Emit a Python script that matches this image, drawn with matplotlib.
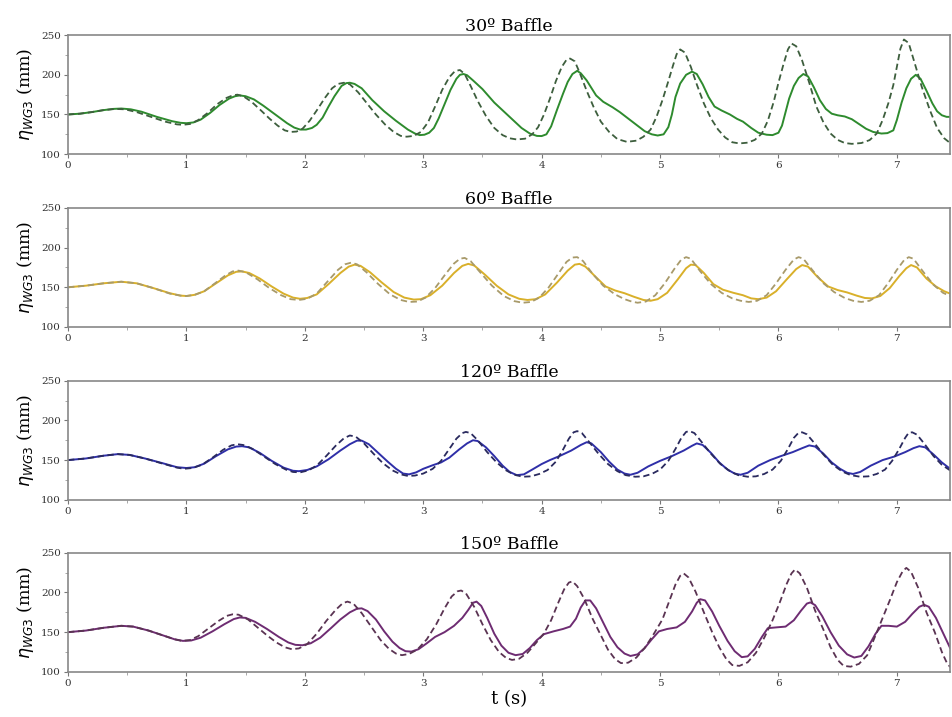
import matplotlib
matplotlib.use("Agg")
import matplotlib.pyplot as plt
from matplotlib.ticker import MultipleLocator

# values (time in s, elevation in mm)

# --- 30º baffle ---
t_s30 = [0, 0.1, 0.2, 0.3, 0.38, 0.45, 0.53, 0.62, 0.75, 0.88, 0.95, 1.0, 1.06, 1.12, 1.2,
         1.28, 1.36, 1.41, 1.45, 1.5, 1.57, 1.65, 1.75, 1.85, 1.91, 1.96, 2.01, 2.06, 2.1,
         2.15, 2.2, 2.25, 2.31, 2.35, 2.38, 2.42, 2.48, 2.57, 2.67, 2.77, 2.87, 2.93, 2.97,
         3.01, 3.05, 3.09, 3.13, 3.18, 3.23, 3.28, 3.31, 3.34, 3.37, 3.42, 3.5, 3.6, 3.73,
         3.83, 3.9, 3.96, 4.0, 4.04, 4.08, 4.13, 4.18, 4.22, 4.26, 4.3, 4.33, 4.38, 4.46,
         4.52, 4.6, 4.66, 4.73, 4.8, 4.87, 4.93, 4.98, 5.03, 5.07, 5.1, 5.13, 5.17, 5.22,
         5.27, 5.31, 5.36, 5.41, 5.46, 5.52, 5.59, 5.65, 5.7, 5.77, 5.83, 5.9, 5.95, 6.0,
         6.03, 6.06, 6.09, 6.13, 6.17, 6.21, 6.25, 6.3, 6.35, 6.4, 6.45, 6.5, 6.56, 6.62,
         6.68, 6.74, 6.8, 6.87, 6.92, 6.97, 7.0, 7.04, 7.08, 7.12, 7.16, 7.2, 7.25, 7.3,
         7.34, 7.38, 7.42, 7.45]
y_s30 = [150, 151, 153, 155.5, 157, 157.5, 156.5, 153.5, 147, 141.5, 139.5, 139, 140, 143.5, 152,
         162, 170, 173, 174, 173, 169, 161, 150, 139, 133.5, 131, 131, 133, 137,
         146, 160, 173, 186, 189.5, 190, 188.5, 183, 168, 154, 142, 131, 126, 124,
         124.5, 127, 133, 145, 163, 181, 195, 200, 201, 199.5, 193, 182, 165, 147,
         133, 126, 123, 122.8, 125, 135, 156, 176, 191, 201, 205, 202, 193, 174,
         166, 159, 153, 145, 137, 129, 125, 123.5, 125, 134, 150, 172, 189, 200,
         204, 201, 188, 172, 160, 155, 150, 144.5, 141, 133, 127, 124.5, 124, 127,
         136, 153, 170, 186, 196, 201, 198, 184, 168, 157, 151, 149, 147.5, 144,
         138, 132, 128, 126, 126.5, 130, 143, 165, 183, 195, 200, 195, 180, 164,
         154, 149, 147, 147]
t_d30 = [0, 0.1, 0.2, 0.3, 0.4, 0.48, 0.58, 0.7, 0.82, 0.92, 0.97, 1.03, 1.1, 1.18, 1.26,
         1.34, 1.39, 1.43, 1.48, 1.55, 1.63, 1.7, 1.77, 1.83, 1.88, 1.93, 1.98, 2.04, 2.1,
         2.17, 2.23, 2.28, 2.33, 2.38, 2.45, 2.53, 2.6, 2.68, 2.75, 2.81, 2.86, 2.92, 2.98,
         3.04, 3.1, 3.16, 3.22, 3.27, 3.31, 3.35, 3.4, 3.46, 3.53, 3.6, 3.67, 3.73, 3.79,
         3.86, 3.92, 3.97, 4.02, 4.07, 4.12, 4.17, 4.21, 4.24, 4.28, 4.32, 4.38, 4.44, 4.5,
         4.57, 4.64, 4.72, 4.8, 4.86, 4.92, 4.97, 5.02, 5.07, 5.11, 5.14, 5.17, 5.21, 5.26,
         5.31, 5.37, 5.43, 5.49, 5.55, 5.61, 5.67, 5.74, 5.8, 5.86, 5.91, 5.96, 6.0, 6.04,
         6.08, 6.11, 6.15, 6.2, 6.26, 6.32, 6.38, 6.44, 6.5, 6.56, 6.62, 6.7, 6.77, 6.83,
         6.88, 6.93, 6.97, 7.0, 7.03, 7.06, 7.1, 7.15, 7.21, 7.28, 7.34, 7.4, 7.45]
y_d30 = [150, 151, 153, 155.5, 157, 156.5, 153, 147, 141, 137.5, 137, 138, 143, 152, 163,
         171, 174, 175, 173, 166, 155, 145, 136, 130, 128, 128.5, 132, 142, 155,
         171, 183, 188.5, 190, 188, 178, 163, 150, 137, 128, 123, 122, 123, 128,
         140, 160, 181, 197, 205, 206, 201, 186, 167, 148, 133, 124, 120, 118.5,
         119.5, 125, 134, 150, 170, 192, 210, 219, 220.5, 217, 203, 180, 159, 141,
         128, 119, 115.5, 117, 122, 131, 147, 168, 192, 212, 226, 232, 228, 210,
         188, 164, 145, 131, 121, 115, 113.5, 114.5, 118, 126, 142, 166, 190, 212,
         232, 239.5, 236, 218, 190, 160, 140, 126, 118, 114, 113, 114, 117.7, 126,
         143, 165, 187, 210, 233, 244.5, 240, 215, 185, 155, 133, 120, 114]

# --- 60º baffle ---
t_s60 = [0, 0.15, 0.3, 0.45, 0.58, 0.72, 0.86, 0.95, 1.0, 1.07, 1.15, 1.25, 1.35, 1.42, 1.47,
         1.53, 1.62, 1.72, 1.82, 1.9, 1.96, 2.02, 2.1, 2.2, 2.3, 2.37, 2.42, 2.47, 2.55,
         2.65, 2.75, 2.84, 2.92, 2.98, 3.06, 3.16, 3.26, 3.33, 3.38, 3.43, 3.52, 3.62, 3.72,
         3.81, 3.88, 3.95, 4.03, 4.13, 4.22, 4.28, 4.32, 4.37, 4.45, 4.54, 4.62, 4.7, 4.78,
         4.86, 4.92, 4.98, 5.06, 5.15, 5.22, 5.26, 5.3, 5.37, 5.45, 5.53, 5.62, 5.7, 5.77,
         5.83, 5.9, 5.98, 6.07, 6.15, 6.2, 6.25, 6.33, 6.42, 6.5, 6.58, 6.66, 6.73, 6.79,
         6.86, 6.94, 7.02, 7.08, 7.12, 7.17, 7.25, 7.33, 7.4, 7.45]
y_s60 = [150, 152, 155, 157, 155, 149, 142.5, 139.5, 139, 140.5, 145, 155, 165, 169.5, 170,
         168, 161, 151, 142, 137, 135.5, 136.5, 141, 154, 168, 176, 178.5, 177, 169,
         156, 144, 137, 134.5, 135, 140, 152, 168, 177, 179.5, 177.5, 166, 152, 141,
         135.5, 134, 135, 141, 156, 171, 178.5, 179.5, 176, 164, 151, 146, 142.5, 138,
         134, 133, 135, 143, 160, 174, 178.5, 178, 168, 154, 147, 143, 140, 136,
         135, 137, 145, 160, 173, 178, 176, 163, 151, 146.5, 143.5, 139.5, 136.5, 136,
         139, 149, 164, 174, 178, 175, 161, 151, 145, 142]
t_d60 = [0, 0.15, 0.3, 0.45, 0.58, 0.72, 0.86, 0.95, 1.0, 1.07, 1.15, 1.25, 1.33, 1.39, 1.44,
         1.5, 1.6, 1.7, 1.8, 1.88, 1.95, 2.02, 2.1, 2.19, 2.28, 2.34, 2.39, 2.44, 2.52,
         2.62, 2.72, 2.81, 2.88, 2.95, 3.02, 3.1, 3.19, 3.26, 3.31, 3.35, 3.4, 3.48, 3.58,
         3.68, 3.77, 3.84, 3.91, 3.98, 4.06, 4.14, 4.21, 4.26, 4.3, 4.35, 4.43, 4.52, 4.62,
         4.7, 4.76, 4.81, 4.88, 4.96, 5.04, 5.12, 5.18, 5.22, 5.26, 5.34, 5.43, 5.52, 5.61,
         5.68, 5.75, 5.82, 5.9, 5.98, 6.06, 6.13, 6.17, 6.21, 6.29, 6.38, 6.47, 6.56, 6.63,
         6.7, 6.77, 6.85, 6.93, 7.0, 7.06, 7.1, 7.14, 7.22, 7.31, 7.39, 7.45]
y_d60 = [150, 152, 155, 157, 155, 149, 142, 139.5, 139, 140.5, 145, 156, 165, 170, 171,
         169, 160, 149, 140, 135, 134, 135.5, 142, 157, 172, 179, 181, 179, 169,
         154, 141, 134, 131.5, 132, 137, 149, 167, 180, 186, 187, 183, 169, 152,
         139, 132.5, 130.5, 131.5, 137, 150, 167, 182, 187.5, 188, 183, 167, 152, 141,
         135, 132, 130.5, 132, 140, 155, 173, 185, 188, 186, 170, 154, 143, 136,
         133, 131.5, 133, 140, 155, 172, 185, 188, 186, 171, 155, 144, 136.5, 133,
         131.5, 133, 140, 156, 172, 184, 188, 186, 170, 153, 143, 139]

# --- 120º baffle ---
t_s120 = [0, 0.15, 0.3, 0.42, 0.52, 0.65, 0.8, 0.92, 1.0, 1.07, 1.15, 1.25, 1.35, 1.42, 1.47,
          1.53, 1.62, 1.72, 1.82, 1.9, 1.95, 2.02, 2.1, 2.2, 2.3, 2.38, 2.44, 2.48, 2.54,
          2.62, 2.7, 2.77, 2.83, 2.88, 2.94, 3.0, 3.08, 3.15, 3.22, 3.3, 3.37, 3.42, 3.46,
          3.53, 3.6, 3.67, 3.73, 3.79, 3.85, 3.92, 4.0, 4.07, 4.15, 4.25, 4.33, 4.38, 4.42,
          4.5, 4.57, 4.64, 4.7, 4.75, 4.81, 4.9, 5.0, 5.1, 5.2, 5.27, 5.31, 5.36, 5.43,
          5.5, 5.57, 5.63, 5.68, 5.74, 5.83, 5.93, 6.02, 6.12, 6.2, 6.26, 6.31, 6.38, 6.45,
          6.52, 6.58, 6.63, 6.69, 6.78, 6.88, 6.98, 7.07, 7.14, 7.19, 7.24, 7.31, 7.38, 7.45]
y_s120 = [150, 152, 155.5, 157.5, 156.5, 152, 146, 141, 140, 141, 145.5, 155, 163.5, 167, 167.5,
          166, 159, 149, 140.5, 136.5, 136, 137.5, 142, 151, 162, 170, 174.5, 174.5, 170,
          159, 148, 139, 133, 132, 134.5, 139, 143.5, 147, 153, 163, 171, 175, 174,
          166, 155, 143, 135, 131, 132, 138, 145, 150, 155, 162, 169, 172.5, 171,
          160, 148, 138, 133, 131.5, 134, 142, 149, 155, 162, 168, 171, 169, 159,
          147, 138, 133, 131.5, 134, 143, 150, 155, 160, 165, 168.5, 167, 158, 147,
          139, 134, 132.5, 135, 143, 150, 154.5, 160, 165, 167.5, 166, 157, 147, 139]
t_d120 = [0, 0.15, 0.3, 0.42, 0.52, 0.65, 0.8, 0.92, 0.98, 1.05, 1.13, 1.22, 1.31, 1.38, 1.43,
          1.48, 1.56, 1.65, 1.75, 1.84, 1.9, 1.96, 2.03, 2.1, 2.18, 2.26, 2.33, 2.38, 2.43,
          2.5, 2.58, 2.66, 2.74, 2.81, 2.87, 2.93, 3.0, 3.08, 3.15, 3.22, 3.28, 3.33, 3.36,
          3.4, 3.46, 3.54, 3.62, 3.7, 3.77, 3.84, 3.91, 3.98, 4.05, 4.12, 4.18, 4.23, 4.27,
          4.3, 4.34, 4.4, 4.48, 4.56, 4.64, 4.71, 4.79, 4.86, 4.93, 5.0, 5.07, 5.13, 5.18,
          5.22, 5.25, 5.29, 5.35, 5.43, 5.51, 5.59, 5.66, 5.74, 5.81, 5.88, 5.95, 6.02, 6.08,
          6.13, 6.17, 6.2, 6.24, 6.3, 6.38, 6.46, 6.54, 6.61, 6.69, 6.76, 6.83, 6.9, 6.96,
          7.02, 7.07, 7.1, 7.13, 7.17, 7.23, 7.31, 7.38, 7.45]
y_d120 = [150, 152, 155.5, 157.5, 156.5, 152, 145.5, 140.5, 139, 140, 144, 153, 163, 168.5, 170,
          169, 164, 155, 145, 138, 135, 134.5, 137, 143, 155, 168, 177.5, 181, 179.5,
          171, 158, 146, 137, 132, 130, 130.5, 133, 139, 149, 164, 177, 184, 185.5,
          184, 175, 160, 147, 137, 131.5, 129, 129.5, 132.5, 137.5, 148, 163, 177, 185,
          186.5, 184, 173, 158, 145, 136, 131, 129, 129.5, 132.5, 138, 149, 164, 178,
          185.5, 186.5, 184, 173, 158, 145, 136, 131, 129, 129.5, 132.5, 138, 149, 164,
          178, 184.5, 185, 182.5, 172, 157, 144, 135.5, 131, 129, 129.5, 132.5, 138, 149,
          164, 178, 184.5, 185, 182, 171, 155, 144, 137]

# --- 150º baffle ---
t_s150 = [0, 0.15, 0.3, 0.45, 0.55, 0.68, 0.8, 0.9, 0.97, 1.04, 1.12, 1.22, 1.32, 1.4, 1.45,
          1.5, 1.58, 1.68, 1.78, 1.86, 1.92, 1.98, 2.05, 2.13, 2.22, 2.3, 2.38, 2.44, 2.48,
          2.53, 2.6, 2.67, 2.74, 2.8, 2.85, 2.9, 2.96, 3.03, 3.1, 3.18, 3.26, 3.33, 3.38,
          3.42, 3.45, 3.49, 3.54, 3.6, 3.66, 3.72, 3.78, 3.84, 3.9, 3.96, 4.02, 4.1, 4.18,
          4.24, 4.29, 4.33, 4.37, 4.41, 4.46, 4.52, 4.58, 4.64, 4.7, 4.75, 4.81, 4.87, 4.93,
          4.99, 5.06, 5.14, 5.21, 5.27, 5.31, 5.34, 5.38, 5.44, 5.5, 5.57, 5.63, 5.69, 5.74,
          5.8, 5.86, 5.91, 5.98, 6.06, 6.13, 6.19, 6.24, 6.27, 6.31, 6.37, 6.44, 6.51, 6.58,
          6.64, 6.7, 6.76, 6.82, 6.87, 6.93, 7.0, 7.07, 7.13, 7.19, 7.23, 7.27, 7.33, 7.39,
          7.45]
y_s150 = [150, 152, 155.5, 158, 157, 152, 146, 141, 139, 139.5, 143, 151, 160, 166.5, 168.5,
          168, 163, 154, 144, 137, 134, 133.5, 136, 143, 155, 166, 175, 179.5, 180,
          176.5, 166, 151, 138, 130, 126, 125.5, 128.5, 136, 144, 150, 158, 168, 178,
          187, 188.5, 183, 168, 148, 133, 124, 121, 122.5, 130, 140, 147.5, 151, 154,
          157, 167, 181, 190, 190, 180, 162, 144, 131, 123, 120, 122, 130, 141,
          151, 154, 156, 163, 176, 187, 191.5, 190, 176, 158, 139, 126, 118.5, 119.5,
          129, 144, 155, 156, 157, 165, 177, 186, 187.5, 184, 170, 150, 133, 122,
          118, 120, 132, 148, 158, 158, 157, 163, 173, 182, 184.5, 182, 168, 149,
          130]
t_d150 = [0, 0.15, 0.3, 0.45, 0.55, 0.68, 0.8, 0.9, 0.96, 1.03, 1.1, 1.18, 1.27, 1.34, 1.39,
          1.44, 1.52, 1.6, 1.68, 1.76, 1.83, 1.89, 1.95, 2.02, 2.1, 2.18, 2.26, 2.32, 2.36,
          2.41, 2.48, 2.56, 2.64, 2.71, 2.77, 2.82, 2.88, 2.95, 3.03, 3.11, 3.18, 3.24, 3.29,
          3.32, 3.36, 3.43, 3.5, 3.57, 3.64, 3.7, 3.75, 3.81, 3.88, 3.95, 4.02, 4.08, 4.14,
          4.19, 4.23, 4.26, 4.3, 4.36, 4.43, 4.5, 4.56, 4.62, 4.67, 4.73, 4.8, 4.87, 4.94,
          5.02, 5.08, 5.13, 5.17, 5.2, 5.24, 5.3, 5.37, 5.44, 5.5, 5.56, 5.61, 5.67, 5.74,
          5.81, 5.88, 5.95, 6.01, 6.07, 6.11, 6.14, 6.18, 6.24, 6.31, 6.38, 6.44, 6.5, 6.55,
          6.61, 6.68, 6.75, 6.82, 6.88, 6.94, 7.0, 7.05, 7.08, 7.12, 7.18, 7.25, 7.32, 7.38,
          7.42, 7.45]
y_d150 = [150, 152, 155.5, 158, 157, 152, 146, 141, 139, 140, 145, 154, 164, 170.5, 172.5,
          172, 166, 156, 146, 137, 131, 128.5, 129.5, 135, 148, 164, 178, 186.5, 188.5,
          186, 174, 157, 140, 129, 123, 121, 122.5, 128, 141, 160, 180, 195, 201.5,
          202.5, 199, 182, 160, 140, 125, 117.5, 115, 116.5, 124, 136, 148.5, 165, 187,
          204, 212.5, 214, 208, 192, 167, 146, 128, 116, 111, 111.5, 118, 130, 146,
          166, 190, 210, 221, 224, 219, 201, 175, 150, 131, 116, 108.5, 107.5, 112,
          124, 143, 165, 187, 211, 224, 229, 224, 206, 177, 153, 131, 115, 107.5,
          106.5, 110, 121, 146, 168, 190, 213, 227, 231, 226, 206, 175, 150, 125,
          112, 106]

panels = [
    ("30º Baffle", t_s30, y_s30, t_d30, y_d30, "#2e8b2e", "#3d5e3d"),
    ("60º Baffle", t_s60, y_s60, t_d60, y_d60, "#d9b02a", "#a89a6a"),
    ("120º Baffle", t_s120, y_s120, t_d120, y_d120, "#2f2fa8", "#2a2a5e"),
    ("150º Baffle", t_s150, y_s150, t_d150, y_d150, "#6e2c72", "#5a3352"),
]

plt.rcParams["font.family"] = "DejaVu Serif"

fig = plt.figure(figsize=(9.53, 7.17), dpi=100)
tops = [0.951, 0.710, 0.469, 0.229]
h = 0.166

for i, (title, ts, ys, td, yd, c_solid, c_dash) in enumerate(panels):
    ax = fig.add_axes([0.0714, tops[i] - h, 0.9256, h])
    ax.plot(ts, ys, color=c_solid, lw=1.4)
    ax.plot(td, yd, color=c_dash, lw=1.3, ls=(0, (3.5, 2)))
    ax.set_xlim(0, 7.45)
    ax.set_ylim(100, 250)
    ax.set_yticks([100, 150, 200, 250])
    ax.set_xticks(range(0, 8))
    ax.xaxis.set_minor_locator(MultipleLocator(0.5))
    ax.yaxis.set_minor_locator(MultipleLocator(25))
    ax.tick_params(axis="both", which="major", labelsize=7.5, length=3, color="#777777",
                   labelcolor="#333333", pad=2)
    ax.tick_params(axis="both", which="minor", length=2, color="#999999")
    for sp in ax.spines.values():
        sp.set_color("#888888")
        sp.set_linewidth(1.2)
    ax.set_title(title, fontsize=12.5, pad=3)
    ax.set_ylabel(r"$\eta_{WG3}$ (mm)", fontsize=12.5, labelpad=4)
    if i == 3:
        ax.set_xlabel("t (s)", fontsize=13, labelpad=2)

fig.savefig("out.png", dpi=100)
